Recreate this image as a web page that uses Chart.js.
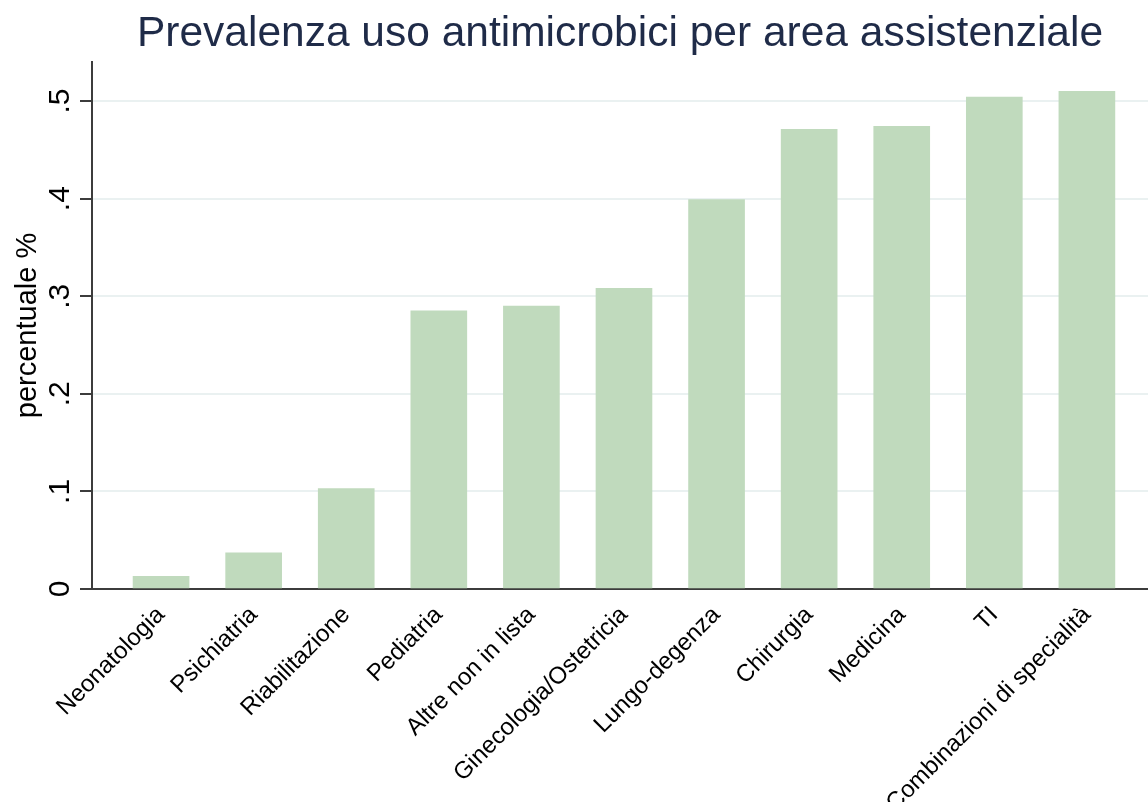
<!DOCTYPE html>
<html>
<head>
<meta charset="utf-8">
<script src="https://cdn.jsdelivr.net/npm/chart.js@4/dist/chart.umd.min.js"></script>
<style>
  html, body { margin: 0; padding: 0; background: #ffffff; }
  #wrap { width: 1148px; height: 802px; }
</style>
</head>
<body>
<div id="wrap"><canvas id="c" width="1148" height="802"></canvas></div>
<script>
const categories = ['Neonatologia', 'Psichiatria', 'Riabilitazione', 'Pediatria', 'Altre non in lista',
  'Ginecologia/Ostetricia', 'Lungo-degenza', 'Chirurgia', 'Medicina', 'TI', 'Combinazioni di specialità'];
const values = [0.013, 0.037, 0.103, 0.285, 0.290, 0.308, 0.399, 0.471, 0.474, 0.504, 0.510];
const yTickValues = [0, 0.1, 0.2, 0.3, 0.4, 0.5];
const yTickLabels = ['0', '.1', '.2', '.3', '.4', '.5'];

const FONT = "'Liberation Sans', Arial, sans-serif";

const rotatedYTicks = {
  id: 'rotatedYTicks',
  afterDraw(chart) {
    const y = chart.scales.y;
    const ctx = chart.ctx;
    ctx.save();
    ctx.fillStyle = '#000000';
    ctx.font = '30px ' + FONT;
    ctx.textAlign = 'center';
    ctx.textBaseline = 'middle';
    yTickValues.forEach((v, i) => {
      const py = y.getPixelForValue(v);
      ctx.save();
      ctx.translate(61, py);
      ctx.rotate(-Math.PI / 2);
      ctx.fillText(yTickLabels[i], 0, 0);
      ctx.restore();
    });
    ctx.restore();
  }
};

new Chart(document.getElementById('c'), {
  type: 'bar',
  data: {
    datasets: [{
      data: values.map((v, i) => ({ x: i, y: v })),
      backgroundColor: '#c0dabd',
      borderWidth: 0,
      barThickness: 56
    }]
  },
  plugins: [rotatedYTicks],
  options: {
    responsive: false,
    animation: false,
    layout: { padding: 0 },
    plugins: {
      legend: { display: false },
      tooltip: { enabled: false },
      title: {
        display: true,
        fullSize: false,
        text: 'Prevalenza uso antimicrobici per area assistenziale',
        color: '#1f2b48',
        font: { family: FONT, size: 42.5, weight: 'normal' },
        padding: { top: 9, bottom: 2 },
        align: 'center'
      }
    },
    scales: {
      x: {
        type: 'linear',
        offset: false,
        min: -0.746,
        max: 10.66,
        afterBuildTicks: (scale) => { scale.ticks = categories.map((_, i) => ({ value: i })); },
        afterFit: (scale) => { scale.height = 213; scale.paddingLeft = 0; scale.paddingRight = 0; },
        grid: { display: false, offset: false },
        border: { display: true, color: '#3c3c3c', width: 2 },
        ticks: {
          autoSkip: false,
          minRotation: 45,
          maxRotation: 45,
          padding: 4,
          color: '#000000',
          font: { family: FONT, size: 24 },
          callback: (v) => categories[v]
        }
      },
      y: {
        min: 0,
        max: 0.54,
        afterBuildTicks: (scale) => { scale.ticks = yTickValues.map(v => ({ value: v })); },
        afterFit: (scale) => { scale.width = 92; },
        grid: { color: '#eaf1f1', lineWidth: 2, tickColor: '#3c3c3c', tickLength: 12, drawTicks: true },
        border: { display: true, color: '#3c3c3c', width: 2 },
        ticks: { display: false },
        title: {
          display: true,
          text: 'percentuale %',
          color: '#000000',
          font: { family: FONT, size: 29 },
          padding: { top: 11, bottom: 0 }
        }
      }
    }
  }
});
</script>
</body>
</html>
